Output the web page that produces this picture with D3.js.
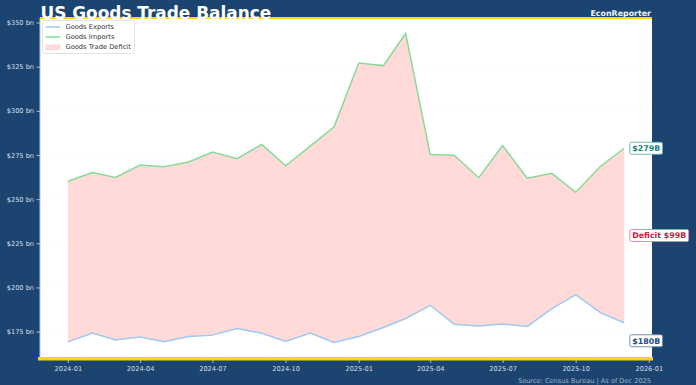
<!DOCTYPE html>
<html>
<head>
<meta charset="utf-8">
<script src="https://cdn.jsdelivr.net/npm/d3@7"></script>
<style>
  html, body { margin: 0; padding: 0; background: #1b4570; }
  svg { display: block; font-family: "DejaVu Sans", sans-serif; }
</style>
</head>
<body>
<svg id="chart"></svg>
<script>
const months = ["2024-01", "2024-02", "2024-03", "2024-04", "2024-05", "2024-06",
    "2024-07", "2024-08", "2024-09", "2024-10", "2024-11", "2024-12",
    "2025-01", "2025-02", "2025-03", "2025-04", "2025-05", "2025-06",
    "2025-07", "2025-08", "2025-09", "2025-10", "2025-11", "2025-12"];
const goodsImports = [260.1, 265.1, 262.3, 269.3, 268.4, 271.0, 276.7, 272.9, 281.0, 268.9, 280.0, 291.0,
    327.1, 325.6, 343.8, 275.2, 274.9, 262.1, 280.4, 261.8, 264.6, 253.9, 268.5, 278.8];
const goodsExports = [169.2, 174.2, 170.3, 172.0, 169.2, 172.2, 173.0, 176.7, 174.1, 169.4, 174.2, 168.8,
    172.2, 177.3, 182.4, 189.9, 179.2, 178.1, 179.3, 177.9, 188.0, 195.9, 185.7, 180.0];
const yTickValues = [175, 200, 225, 250, 275, 300, 325, 350];
const xTickLabels = ["2024-01", "2024-04", "2024-07", "2024-10", "2025-01", "2025-04", "2025-07", "2025-10", "2026-01"];

const width = 696, height = 385;
const plot = { left: 40, right: 652, top: 18, bottom: 358 };
const parseMonth = d3.timeParse("%Y-%m");

const rows = months.map((m, i) => ({
    date: parseMonth(m),
    imports: goodsImports[i],
    exports: goodsExports[i]
}));

const svg = d3.select("#chart")
    .attr("width", width)
    .attr("height", height);

// matplotlib-like 5% padding around the data
const dateExtent = d3.extent(rows, d => d.date);
const span = dateExtent[1] - dateExtent[0];
const x = d3.scaleTime()
    .domain([new Date(+dateExtent[0] - span * 0.05), new Date(+dateExtent[1] + span * 0.05)])
    .range([plot.left, plot.right]);

const allValues = goodsImports.concat(goodsExports);
const yMin = d3.min(allValues), yMax = d3.max(allValues);
const yPad = (yMax - yMin) * 0.05;
const y = d3.scaleLinear()
    .domain([yMin - yPad, yMax + yPad])
    .range([plot.bottom, plot.top]);

svg.append("rect")
    .attr("x", plot.left)
    .attr("y", plot.top)
    .attr("width", plot.right - plot.left)
    .attr("height", plot.bottom - plot.top)
    .attr("fill", "white");

// faint grid
svg.append("g")
    .selectAll("line")
    .data(yTickValues)
    .join("line")
        .attr("x1", plot.left).attr("x2", plot.right)
        .attr("y1", d => y(d)).attr("y2", d => y(d))
        .attr("stroke", "#f4f0dc")
        .attr("stroke-width", 0.6)
        .attr("stroke-dasharray", "1,3");

// deficit area
svg.append("path")
    .datum(rows)
    .attr("fill", "#ffdad8")
    .attr("d", d3.area()
        .x(d => x(d.date))
        .y0(d => y(d.exports))
        .y1(d => y(d.imports)));

const lineFor = key => d3.line().x(d => x(d.date)).y(d => y(d[key]));

svg.append("path")
    .datum(rows)
    .attr("fill", "none")
    .attr("stroke", "#9fc9ee")
    .attr("stroke-width", 1.5)
    .attr("d", lineFor("exports"));

svg.append("path")
    .datum(rows)
    .attr("fill", "none")
    .attr("stroke", "#86dc96")
    .attr("stroke-width", 1.5)
    .attr("d", lineFor("imports"));

// left spine + gold bars
svg.append("line")
    .attr("x1", plot.left).attr("x2", plot.left)
    .attr("y1", plot.top).attr("y2", plot.bottom)
    .attr("stroke", "#b8c4d2").attr("stroke-width", 1);

svg.append("rect")
    .attr("x", plot.left).attr("y", plot.top - 1)
    .attr("width", plot.right - plot.left).attr("height", 2)
    .attr("fill", "#ffd700");

svg.append("rect")
    .attr("x", plot.left - 2).attr("y", plot.bottom - 1)
    .attr("width", plot.right - plot.left + 3).attr("height", 3.5)
    .attr("fill", "#ffd700");

// axes
const yAxis = svg.append("g")
    .attr("transform", `translate(${plot.left},0)`)
    .call(d3.axisLeft(y).tickValues(yTickValues).tickSize(3.5).tickPadding(2.5)
        .tickFormat(d => `$${d} bn`));

const xAxis = svg.append("g")
    .attr("transform", `translate(0,${plot.bottom + 1.5})`)
    .call(d3.axisBottom(x).tickValues(xTickLabels.map(parseMonth)).tickSize(3.5).tickPadding(3)
        .tickFormat(d3.timeFormat("%Y-%m")));

[yAxis, xAxis].forEach(axis => {
    axis.select(".domain").remove();
    axis.selectAll(".tick line").attr("stroke", "#c9d3df").attr("stroke-width", 0.8);
    axis.selectAll(".tick text")
        .attr("fill", "#d6dee8")
        .style("font-family", "DejaVu Sans")
        .style("font-size", "6.6px");
});

// legend
const legend = svg.append("g").attr("transform", "translate(42.5,20.5)");
legend.append("rect")
    .attr("width", 92).attr("height", 33).attr("rx", 2)
    .attr("fill", "white").attr("fill-opacity", 0.9)
    .attr("stroke", "#dcdcdc").attr("stroke-width", 0.8);

const legendItems = [
    { label: "Goods Exports", type: "line", color: "#9fc9ee" },
    { label: "Goods Imports", type: "line", color: "#86dc96" },
    { label: "Goods Trade Deficit", type: "patch", color: "#ffdad8" }
];
legendItems.forEach((item, i) => {
    const g = legend.append("g").attr("transform", `translate(0,${6.5 + i * 10})`);
    if (item.type === "line") {
        g.append("line").attr("x1", 3).attr("x2", 18).attr("y1", 0).attr("y2", 0)
            .attr("stroke", item.color).attr("stroke-width", 1.5);
    } else {
        g.append("rect").attr("x", 3).attr("y", -2.5).attr("width", 15).attr("height", 5.5)
            .attr("fill", item.color);
    }
    g.append("text").attr("x", 23).attr("y", 2.4)
        .attr("fill", "#333").style("font-size", "6.7px")
        .text(item.label);
});

// end labels
const last = rows[rows.length - 1];
const lastX = x(last.date) + 8;
const deficit = last.imports - last.exports;
const endLabels = [
    { text: `$${Math.round(last.imports)}B`, cy: y(last.imports), color: "#16877d", edge: "#5fb3aa" },
    { text: `Deficit $${Math.round(deficit)}B`, cy: (y(last.imports) + y(last.exports)) / 2, color: "#d2183f", edge: "#e88098" },
    { text: `$${Math.round(last.exports)}B`, cy: y(last.exports) + 18, color: "#1d4b7c", edge: "#6b87a8" }
];
endLabels.forEach(lbl => {
    const g = svg.append("g");
    const t = g.append("text")
        .attr("x", lastX).attr("y", lbl.cy + 2.9)
        .attr("fill", lbl.color)
        .style("font-size", "7.9px").style("font-weight", "bold")
        .text(lbl.text);
    const bb = t.node().getBBox();
    g.insert("rect", "text")
        .attr("x", bb.x - 2.3).attr("y", lbl.cy - 6)
        .attr("width", bb.width + 4.6).attr("height", 12)
        .attr("rx", 1.5)
        .attr("fill", "white")
        .attr("stroke", lbl.edge).attr("stroke-width", 0.9);
});

// titles
svg.append("text")
    .attr("x", 40.5).attr("y", 18.5)
    .attr("fill", "white")
    .style("font-size", "16.9px").style("font-weight", "bold")
    .text("US Goods Trade Balance");

svg.append("text")
    .attr("x", plot.right - 1).attr("y", 15.5)
    .attr("text-anchor", "end")
    .attr("fill", "#eef2f7")
    .style("font-size", "7.9px").style("font-weight", "bold")
    .text("EconReporter");

svg.append("text")
    .attr("x", plot.right - 1).attr("y", 383)
    .attr("text-anchor", "end")
    .attr("fill", "#9fb0c4")
    .style("font-size", "6.6px")
    .text("Source: Census Bureau | As of Dec 2025");
</script>
</body>
</html>
